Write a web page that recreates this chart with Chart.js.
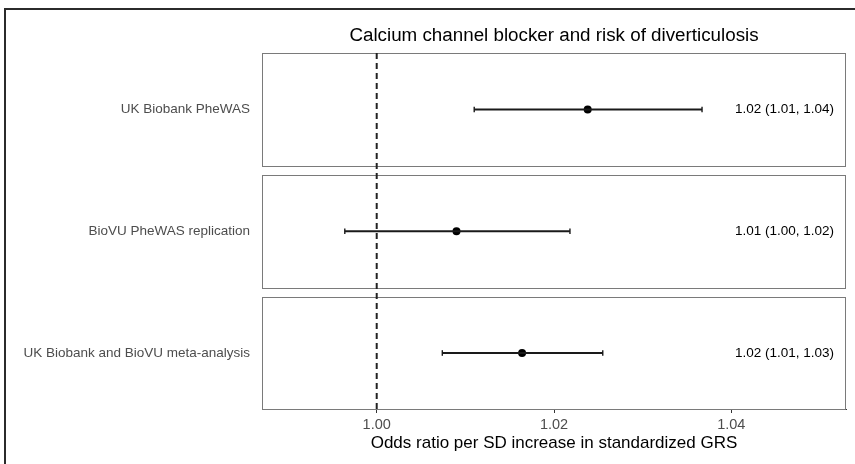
<!DOCTYPE html>
<html><head><meta charset="utf-8">
<script src="https://cdn.jsdelivr.net/npm/chart.js@4"></script>
<style>html,body{margin:0;padding:0;background:#fff}#wrap{width:855px;height:464px;position:relative}</style>
</head><body><div id="wrap"><canvas id="c" width="855" height="464"></canvas></div>
<script>
const studies = ['UK Biobank PheWAS', 'BioVU PheWAS replication', 'UK Biobank and BioVU meta-analysis'];
const oddsRatio = [1.0238, 1.0090, 1.0164];
const ciLower = [1.0110, 0.9964, 1.0074];
const ciUpper = [1.0367, 1.0218, 1.0255];
const estimateLabels = ['1.02 (1.01, 1.04)', '1.01 (1.00, 1.02)', '1.02 (1.01, 1.03)'];
const xTicks = [1.00, 1.02, 1.04];
const nullValue = 1.00;
const labelPosition = 1.046;
const chartTitle = 'Calcium channel blocker and risk of diverticulosis';
const xTitle = 'Odds ratio per SD increase in standardized GRS';

const FONT = "'Liberation Sans', Arial, Helvetica, sans-serif";
const HALF = 0.464;

const datasets = [];
studies.forEach((s, i) => {
  datasets.push({
    type: 'line',
    data: [{x: ciLower[i], y: i}, {x: ciUpper[i], y: i}],
    borderColor: '#1a1a1a',
    borderWidth: 2,
    pointStyle: 'line',
    rotation: 90,
    pointRadius: 2.8,
    pointBorderWidth: 1.4,
    pointBorderColor: '#1a1a1a',
    showLine: true,
    fill: false
  });
});
datasets.push({
  type: 'scatter',
  data: studies.map((s, i) => ({x: oddsRatio[i], y: i})),
  pointRadius: 4,
  pointBackgroundColor: '#000',
  pointBorderColor: '#000',
  pointBorderWidth: 0
});

const forestPlugin = {
  id: 'forest',
  beforeDatasetsDraw(chart) {
    const {ctx, scales: {x, y}} = chart;
    ctx.save();
    ctx.strokeStyle = '#7a7a7a';
    ctx.lineWidth = 1;
    studies.forEach((s, i) => {
      const t = Math.round(y.getPixelForValue(i - HALF)) + 0.5;
      const b = Math.round(y.getPixelForValue(i + HALF)) + 0.5;
      const l = Math.round(x.left) + 0.5;
      const r = Math.round(x.right) - 0.5;
      ctx.strokeRect(l, t, r - l, b - t);
    });
    const xp = x.getPixelForValue(nullValue);
    ctx.strokeStyle = '#222';
    ctx.lineWidth = 2;
    ctx.setLineDash([6, 4]);
    ctx.beginPath();
    ctx.moveTo(xp, y.getPixelForValue(-HALF));
    ctx.lineTo(xp, y.getPixelForValue(studies.length - 1 + HALF));
    ctx.stroke();
    ctx.restore();
  },
  afterDraw(chart) {
    const {ctx, scales: {x, y}, chartArea} = chart;
    ctx.save();
    ctx.fillStyle = '#000';
    ctx.font = '13.5px ' + FONT;
    ctx.textAlign = 'center';
    ctx.textBaseline = 'middle';
    estimateLabels.forEach((t, i) => {
      ctx.fillText(t, x.getPixelForValue(labelPosition), y.getPixelForValue(i));
    });
    ctx.font = '18.8px ' + FONT;
    ctx.fillText(chartTitle, (chartArea.left + chartArea.right) / 2, 36);
    ctx.strokeStyle = '#2b2b2b';
    ctx.lineWidth = 2;
    ctx.beginPath();
    ctx.moveTo(5, 464);
    ctx.lineTo(5, 9);
    ctx.lineTo(855, 9);
    ctx.stroke();
    ctx.restore();
  }
};

new Chart(document.getElementById('c'), {
  type: 'scatter',
  data: {datasets},
  options: {
    responsive: false,
    animation: false,
    layout: {padding: {top: 53, right: 9, left: 0, bottom: 0}},
    plugins: {legend: {display: false}, tooltip: {enabled: false}, title: {display: false}},
    scales: {
      x: {
        type: 'linear',
        min: 0.98706,
        max: 1.05294,
        afterBuildTicks: s => { s.ticks = xTicks.map(v => ({value: v})); },
        afterFit: s => { s.height = 55; },
        ticks: {callback: v => Number(v).toFixed(2), font: {family: FONT, size: 14.5}, color: '#4d4d4d', padding: 3, maxRotation: 0},
        grid: {drawOnChartArea: false, drawTicks: true, tickLength: 4, color: '#333', tickWidth: 1},
        border: {display: true, color: '#333', width: 1},
        title: {display: true, text: xTitle, font: {family: FONT, size: 17}, color: '#000', padding: {top: 0, bottom: 10}}
      },
      y: {
        type: 'linear',
        reverse: true,
        min: -HALF,
        max: studies.length - 1 + HALF - 0.004,
        afterBuildTicks: s => { s.ticks = studies.map((_, i) => ({value: i})); },
        afterFit: s => { s.width = 262; },
        ticks: {callback: v => studies[v], font: {family: FONT, size: 13.5}, color: '#4d4d4d', padding: 4},
        grid: {display: false},
        border: {display: false}
      }
    }
  },
  plugins: [forestPlugin]
});
</script>
</body></html>
